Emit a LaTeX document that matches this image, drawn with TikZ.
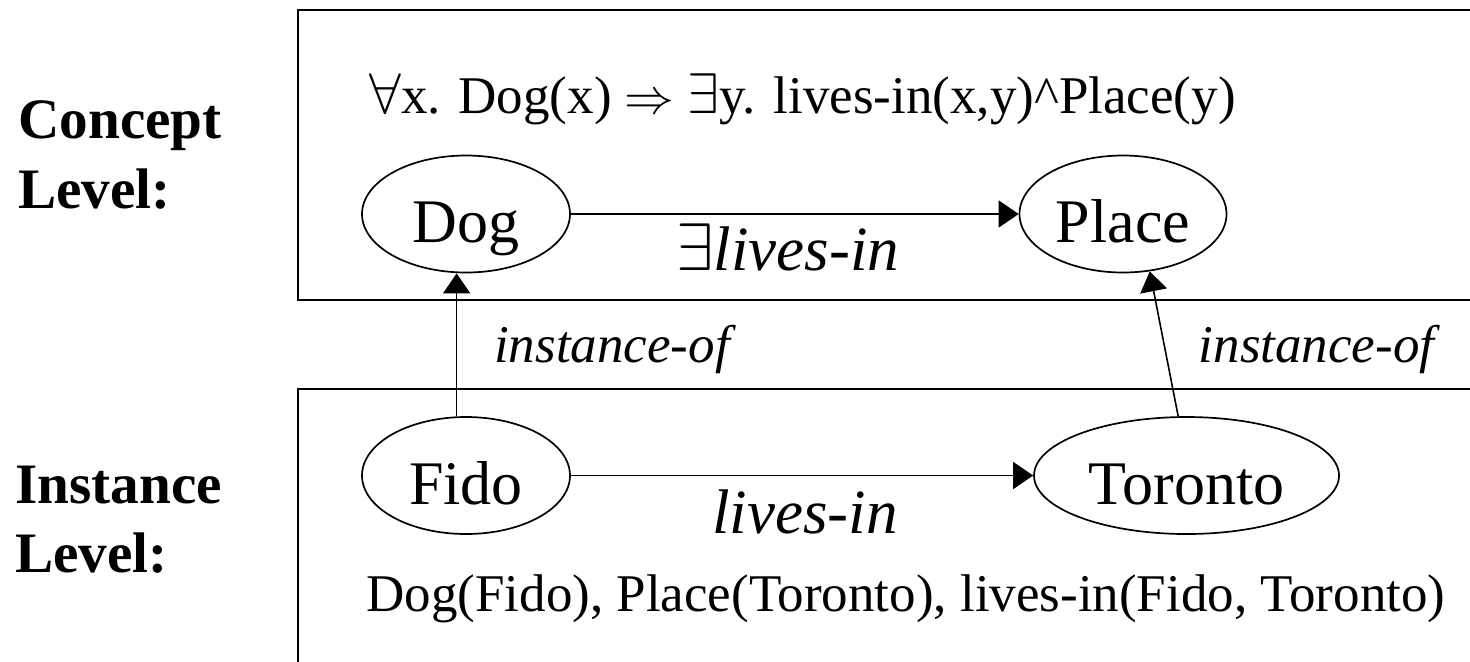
\documentclass[tikz,border=0pt]{standalone}
\usepackage{fontspec}
\usepackage{graphicx}
\setmainfont{Liberation Serif}
\usetikzlibrary{arrows.meta,shapes.geometric}
\newcommand{\bigsym}[2]{\scalebox{#1}{$#2$}}
\begin{document}
\begin{tikzpicture}[x=0.5pt,y=-0.5pt,
  boxline/.style={line width=1pt},
  concept/.style={draw,ellipse,line width=0.85pt,inner sep=0pt,minimum height=58.5pt,
    text height=28.5pt,text depth=0pt,font=\fontsize{31pt}{36pt}\selectfont},
  arr/.style={line width=0.8pt,-{Triangle[length=10pt,width=13.5pt]}},
  side/.style={anchor=base west,font=\fontsize{28.6pt}{34pt}\selectfont\bfseries},
  formula/.style={anchor=base west,font=\fontsize{26.5pt}{31pt}\selectfont,inner sep=0pt},
  rel/.style={anchor=base,font=\fontsize{31.5pt}{36pt}\selectfont\itshape,inner sep=0pt},
  inst/.style={anchor=base,font=\fontsize{26.5pt}{31pt}\selectfont\itshape,inner sep=0pt}]
\useasboundingbox (0,0) rectangle (1470,661);
% level boxes (open at the right)
\draw[boxline] (1471,10) -- (298,10) -- (298,300) -- (1471,300);
\draw[boxline] (1471,389) -- (298,389) -- (298,662);
% side labels
\node[side,inner sep=0pt] (cl1) at (18,138) {Concept};
\node[side,inner sep=0pt] (cl2) at (18,208) {Level:};
\node[side,inner sep=0pt] (il1) at (15,503) {Instance};
\node[side,inner sep=0pt] (il2) at (15,572) {Level:};
% formulas
\node[formula] (f1) at (369,113) {\bigsym{1.15}{\forall}x. Dog(x) $\Rightarrow$ \bigsym{1.15}{\exists}y. lives-in(x,y)\textasciicircum Place(y)};
\node[formula] (f2) at (366,611) {Dog(Fido), Place(Toronto), lives-in(Fido, Toronto)};
% nodes
\node[concept,minimum width=104pt] (Dog) at (466,214) {Dog};
\node[concept,minimum width=103.5pt] (Place) at (1123,214) {Place};
\node[concept,minimum width=104pt] (Fido) at (466,475.5) {Fido};
\node[concept,minimum width=152.5pt] (Toronto) at (1186.5,475.5) {Toronto};
% connectors
\draw[arr] (Dog) -- (Place);
\draw[arr] (Fido) -- (Toronto);
\draw[arr] (Fido.99) -- (Fido.99 |- Dog.south);
\draw[arr] (Toronto.98) -- (Place.-65);
% connector labels
\node[rel] (l1) at (788,270) {\bigsym{1.35}{\exists}lives-in};
\node[rel] (l2) at (805,533) {lives-in};
\node[inst] (i1) at (612,362) {instance-of};
\node[inst] (i2) at (1316.5,362) {instance-of};
\end{tikzpicture}
\end{document}
